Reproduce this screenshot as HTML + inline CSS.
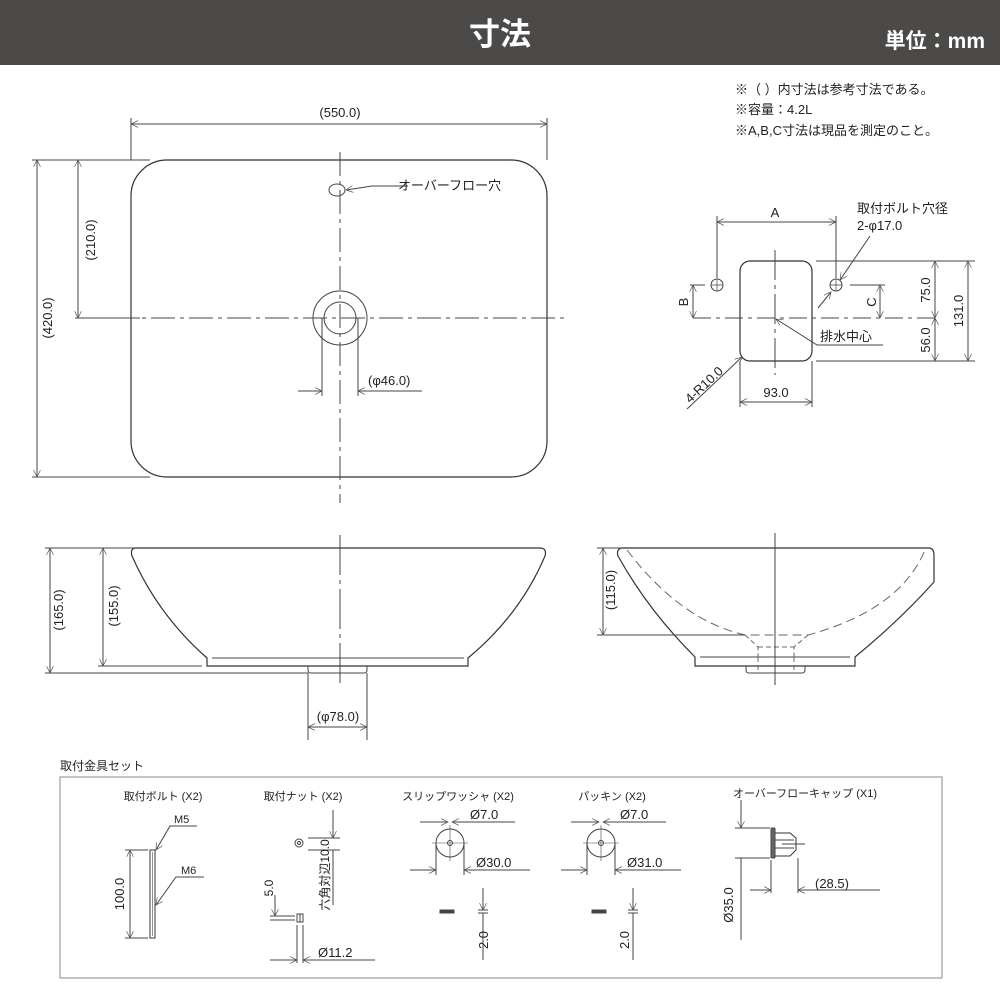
<!DOCTYPE html>
<html><head><meta charset="utf-8"><style>
body{margin:0;background:#fff}
svg{display:block}
text{font-family:"Liberation Sans","Noto Sans CJK JP",sans-serif;fill:#222}
</style></head><body>
<svg width="1000" height="1000" viewBox="0 0 1000 1000" xmlns="http://www.w3.org/2000/svg">
<defs>
<marker id="a" viewBox="0 0 10 10" refX="10" refY="5" markerWidth="9" markerHeight="7" orient="auto-start-reverse" markerUnits="userSpaceOnUse"><path d="M0,0 L10,5 L0,10" fill="none" stroke="#555" stroke-width="1"/></marker>
</defs>
<rect x="0" y="0" width="1000" height="65" fill="#4b4a48"/>
<text x="500" y="45" text-anchor="middle" font-size="31" font-weight="bold" style="fill:#fff">寸法</text>
<text x="985" y="48" text-anchor="end" font-size="21" font-weight="bold" style="fill:#fff">単位：mm</text>

<g font-size="13">
<text x="735" y="94">※（  ）内寸法は参考寸法である。</text>
<text x="735" y="114">※容量：4.2L</text>
<text x="735" y="135">※A,B,C寸法は現品を測定のこと。</text>
</g>

<g stroke="#444" stroke-width="1" fill="none">
<!-- top view -->
<rect x="131" y="160" width="416" height="317" rx="36" stroke="#333" stroke-width="1.2"/>
<line x1="75" y1="318" x2="565" y2="318" stroke-dasharray="24,5,4,5"/>
<line x1="340" y1="152" x2="340" y2="503" stroke-dasharray="24,5,4,5"/>
<circle cx="340" cy="318" r="27"/>
<circle cx="340" cy="318" r="16"/>
<ellipse cx="337" cy="190" rx="8" ry="6"/>
<polyline points="408,186 372,186 346,190" marker-end="url(#a)"/>
<line x1="131" y1="118" x2="131" y2="160"/><line x1="547" y1="118" x2="547" y2="160"/>
<line x1="131" y1="124" x2="547" y2="124" marker-start="url(#a)" marker-end="url(#a)"/>
<line x1="32" y1="160" x2="150" y2="160"/><line x1="32" y1="477" x2="150" y2="477"/>
<line x1="37" y1="160" x2="37" y2="477" marker-start="url(#a)" marker-end="url(#a)"/>
<line x1="78" y1="318" x2="140" y2="318"/>
<line x1="78" y1="160" x2="78" y2="318" marker-start="url(#a)" marker-end="url(#a)"/>
<line x1="322" y1="318" x2="322" y2="396"/><line x1="358" y1="318" x2="358" y2="396"/>
<line x1="298" y1="391" x2="322" y2="391" marker-end="url(#a)"/>
<line x1="422" y1="391" x2="358" y2="391" marker-end="url(#a)"/>

<!-- front side view -->
<path d="M135,548 L541,548 Q547,549 545,556 Q520,615 468,658 L468,666 L207,666 L207,658 Q158,615 132,556 Q130,549 135,548 Z" stroke="#333" stroke-width="1.2"/>
<line x1="212" y1="658" x2="464" y2="658"/>
<path d="M308,666 L308,670 Q308,673 311,673 L364,673 Q367,673 367,670 L367,666"/>
<line x1="340" y1="535" x2="340" y2="685" stroke-dasharray="40,5,4,5"/>
<line x1="45" y1="548" x2="134" y2="548"/>
<line x1="45" y1="673" x2="308" y2="673"/>
<line x1="98" y1="666" x2="202" y2="666"/>
<line x1="50" y1="548" x2="50" y2="673" marker-start="url(#a)" marker-end="url(#a)"/>
<line x1="103" y1="548" x2="103" y2="666" marker-start="url(#a)" marker-end="url(#a)"/>
<line x1="308" y1="673" x2="308" y2="740"/><line x1="367" y1="673" x2="367" y2="740"/>
<line x1="308" y1="727" x2="367" y2="727" marker-start="url(#a)" marker-end="url(#a)"/>

<!-- right side view -->
<path d="M622,548 L930,548 Q934,549 934,555 L934,582 Q900,620 855,657 L855,666 L695,666 L695,657 Q648,610 618,556 Q616,549 622,548 Z" stroke="#333" stroke-width="1.2"/>
<line x1="700" y1="657" x2="850" y2="657"/>
<path d="M746,666 L746,670 Q746,673 749,673 L802,673 Q805,673 805,670 L805,666"/>
<path d="M627,550 Q680,620 745,635 L808,635 Q900,610 925,550" stroke-dasharray="9,5" stroke="#666"/>
<path d="M745,635 L758,647 L758,657 M808,635 L794,647 L794,657 M758,647 L794,647 M758,657 L758,673 M794,657 L794,673" stroke-dasharray="5,3" stroke="#666"/>
<line x1="775" y1="533" x2="775" y2="685"/>
<line x1="597" y1="548" x2="622" y2="548"/>
<line x1="597" y1="635" x2="745" y2="635"/>
<line x1="603" y1="548" x2="603" y2="635" marker-start="url(#a)" marker-end="url(#a)"/>

<!-- right top detail -->
<rect x="740" y="261" width="72" height="100" rx="10" stroke="#333" stroke-width="1.2"/>
<line x1="693" y1="318" x2="940" y2="318" stroke-dasharray="18,5,4,5"/>
<line x1="775" y1="250" x2="775" y2="375" stroke-dasharray="30,5,4,5"/>
<circle cx="717" cy="285" r="6"/><circle cx="836" cy="285" r="6"/>
<path d="M711,285 h12 M717,279 v12 M830,285 h12 M836,279 v12" stroke-width="0.7"/>
<line x1="717" y1="216" x2="717" y2="278"/><line x1="836" y1="216" x2="836" y2="278"/>
<line x1="717" y1="222" x2="836" y2="222" marker-start="url(#a)" marker-end="url(#a)"/>
<line x1="870" y1="236" x2="840" y2="280" marker-end="url(#a)"/>
<line x1="818" y1="308" x2="831" y2="292" marker-end="url(#a)"/>
<line x1="816" y1="261" x2="975" y2="261"/><line x1="816" y1="361" x2="975" y2="361"/>
<line x1="850" y1="285" x2="885" y2="285"/>
<line x1="690" y1="285" x2="705" y2="285"/>
<line x1="693" y1="285" x2="693" y2="318" marker-start="url(#a)" marker-end="url(#a)"/>
<line x1="880" y1="285" x2="880" y2="318" marker-start="url(#a)" marker-end="url(#a)"/>
<line x1="935" y1="261" x2="935" y2="318" marker-start="url(#a)" marker-end="url(#a)"/>
<line x1="935" y1="318" x2="935" y2="361" marker-start="url(#a)" marker-end="url(#a)"/>
<line x1="968" y1="261" x2="968" y2="361" marker-start="url(#a)" marker-end="url(#a)"/>
<polyline points="883,345 817,345 776,319" marker-end="url(#a)"/>
<line x1="740" y1="361" x2="740" y2="407"/><line x1="812" y1="361" x2="812" y2="407"/>
<line x1="740" y1="402" x2="812" y2="402" marker-start="url(#a)" marker-end="url(#a)"/>
<line x1="687" y1="409" x2="742" y2="357" marker-end="url(#a)"/>

<!-- kit box -->
<rect x="60" y="777" width="882" height="201" stroke="#888"/>
<rect x="150" y="850" width="5" height="88" stroke="#333"/>
<line x1="152.5" y1="852" x2="152.5" y2="936" stroke-width="0.6"/>
<line x1="125" y1="850" x2="148" y2="850"/><line x1="125" y1="938" x2="148" y2="938"/>
<line x1="130" y1="850" x2="130" y2="938" marker-start="url(#a)" marker-end="url(#a)"/>
<polyline points="197,826 170,826 156,850" marker-end="url(#a)"/>
<polyline points="204,877 176,877 156,905" marker-end="url(#a)"/>
<circle cx="299" cy="843" r="4"/><circle cx="299" cy="843" r="1.5"/>
<line x1="308" y1="838" x2="340" y2="838"/><line x1="308" y1="850" x2="340" y2="850"/>
<line x1="333" y1="810" x2="333" y2="838" marker-end="url(#a)"/>
<line x1="333" y1="850" x2="333" y2="905"/>
<rect x="297" y="914" width="6" height="8"/><line x1="300" y1="914" x2="300" y2="922"/>
<line x1="270" y1="916" x2="295" y2="916"/><line x1="270" y1="920" x2="295" y2="920"/>
<line x1="275" y1="895" x2="275" y2="916" marker-end="url(#a)"/>
<line x1="297" y1="925" x2="297" y2="963"/><line x1="303" y1="925" x2="303" y2="963"/>
<line x1="270" y1="960" x2="297" y2="960" marker-end="url(#a)"/>
<line x1="375" y1="960" x2="303" y2="960" marker-end="url(#a)"/>
<circle cx="450" cy="843" r="14"/><circle cx="450" cy="843" r="2.5"/>
<line x1="432" y1="843" x2="468" y2="843" stroke-width="0.6"/><line x1="450" y1="825" x2="450" y2="861" stroke-width="0.6"/>
<line x1="420" y1="822" x2="448" y2="822" marker-end="url(#a)"/>
<line x1="515" y1="822" x2="452" y2="822" marker-end="url(#a)"/>
<line x1="436" y1="843" x2="436" y2="875"/><line x1="464" y1="843" x2="464" y2="875"/>
<line x1="410" y1="870" x2="436" y2="870" marker-end="url(#a)"/>
<line x1="530" y1="870" x2="464" y2="870" marker-end="url(#a)"/>
<rect x="440" y="910" width="14" height="3" fill="#444"/>
<line x1="478" y1="910" x2="488" y2="910"/><line x1="478" y1="913" x2="488" y2="913"/>
<line x1="483" y1="888" x2="483" y2="910" marker-end="url(#a)"/>
<line x1="483" y1="913" x2="483" y2="960"/>
<circle cx="601" cy="843" r="14"/><circle cx="601" cy="843" r="2.5"/>
<line x1="583" y1="843" x2="619" y2="843" stroke-width="0.6"/><line x1="601" y1="825" x2="601" y2="861" stroke-width="0.6"/>
<line x1="571" y1="822" x2="599" y2="822" marker-end="url(#a)"/>
<line x1="666" y1="822" x2="603" y2="822" marker-end="url(#a)"/>
<line x1="587" y1="843" x2="587" y2="875"/><line x1="615" y1="843" x2="615" y2="875"/>
<line x1="561" y1="870" x2="587" y2="870" marker-end="url(#a)"/>
<line x1="681" y1="870" x2="615" y2="870" marker-end="url(#a)"/>
<rect x="592" y="910" width="14" height="3" fill="#444"/>
<line x1="628" y1="910" x2="638" y2="910"/><line x1="628" y1="913" x2="638" y2="913"/>
<line x1="633" y1="888" x2="633" y2="910" marker-end="url(#a)"/>
<line x1="633" y1="913" x2="633" y2="960"/>
<rect x="771" y="828" width="4" height="30" rx="1" fill="#666"/>
<path d="M775,833 L790,833 L796,838 L796,850 L790,856 L775,856" stroke="#333"/>
<line x1="775" y1="840" x2="794" y2="840"/><line x1="775" y1="848" x2="794" y2="848"/>
<line x1="782" y1="844" x2="805" y2="844"/>
<line x1="735" y1="828" x2="770" y2="828"/><line x1="735" y1="858" x2="770" y2="858"/>
<line x1="741" y1="800" x2="741" y2="828" marker-end="url(#a)"/>
<line x1="741" y1="858" x2="741" y2="940"/>
<line x1="771" y1="860" x2="771" y2="893"/><line x1="798" y1="858" x2="798" y2="893"/>
<line x1="750" y1="890" x2="771" y2="890" marker-end="url(#a)"/>
<line x1="880" y1="890" x2="798" y2="890" marker-end="url(#a)"/>
</g>

<g font-size="13">
<text x="340" y="117" text-anchor="middle">(550.0)</text>
<text x="398" y="190">オーバーフロー穴</text>
<text transform="translate(52,318) rotate(-90)" text-anchor="middle">(420.0)</text>
<text transform="translate(95,240) rotate(-90)" text-anchor="middle">(210.0)</text>
<text x="368" y="385">(φ46.0)</text>
<text transform="translate(63,610) rotate(-90)" text-anchor="middle">(165.0)</text>
<text transform="translate(118,606) rotate(-90)" text-anchor="middle">(155.0)</text>
<text x="338" y="721" text-anchor="middle">(φ78.0)</text>
<text transform="translate(615,590) rotate(-90)" text-anchor="middle">(115.0)</text>
<text x="775" y="217" text-anchor="middle">A</text>
<text x="857" y="213">取付ボルト穴径</text>
<text x="857" y="230">2-φ17.0</text>
<text transform="translate(688,302) rotate(-90)" text-anchor="middle">B</text>
<text transform="translate(876,302) rotate(-90)" text-anchor="middle">C</text>
<text transform="translate(930,290) rotate(-90)" text-anchor="middle">75.0</text>
<text transform="translate(930,340) rotate(-90)" text-anchor="middle">56.0</text>
<text transform="translate(963,311) rotate(-90)" text-anchor="middle">131.0</text>
<text x="820" y="341">排水中心</text>
<text x="776" y="397" text-anchor="middle">93.0</text>
<text transform="translate(707,388) rotate(-43)" text-anchor="middle">4-R10.0</text>
<text x="60" y="770" font-size="12">取付金具セット</text>
</g>
<g font-size="11">
<text x="163" y="800" text-anchor="middle">取付ボルト (X2)</text>
<text x="303" y="800" text-anchor="middle">取付ナット (X2)</text>
<text x="458" y="800" text-anchor="middle">スリップワッシャ (X2)</text>
<text x="612" y="800" text-anchor="middle">パッキン (X2)</text>
<text x="805" y="797" text-anchor="middle">オーバーフローキャップ (X1)</text>
<text x="174" y="823">M5</text>
<text x="181" y="874">M6</text>
<text transform="translate(124,894) rotate(-90)" text-anchor="middle" font-size="13">100.0</text>
<text transform="translate(329,875) rotate(-90)" text-anchor="middle" font-size="12">六角対辺10.0</text>
<text transform="translate(273,888) rotate(-90)" text-anchor="middle" font-size="12">5.0</text>
<text x="318" y="957" font-size="13">Ø11.2</text>
<text x="470" y="819" font-size="13">Ø7.0</text>
<text x="476" y="867" font-size="13">Ø30.0</text>
<text transform="translate(488,940) rotate(-90)" text-anchor="middle" font-size="13">2.0</text>
<text x="620" y="819" font-size="13">Ø7.0</text>
<text x="627" y="867" font-size="13">Ø31.0</text>
<text transform="translate(629,940) rotate(-90)" text-anchor="middle" font-size="13">2.0</text>
<text transform="translate(733,905) rotate(-90)" text-anchor="middle" font-size="13">Ø35.0</text>
<text x="815" y="888" font-size="13">(28.5)</text>
</g>
</svg>
</body></html>
